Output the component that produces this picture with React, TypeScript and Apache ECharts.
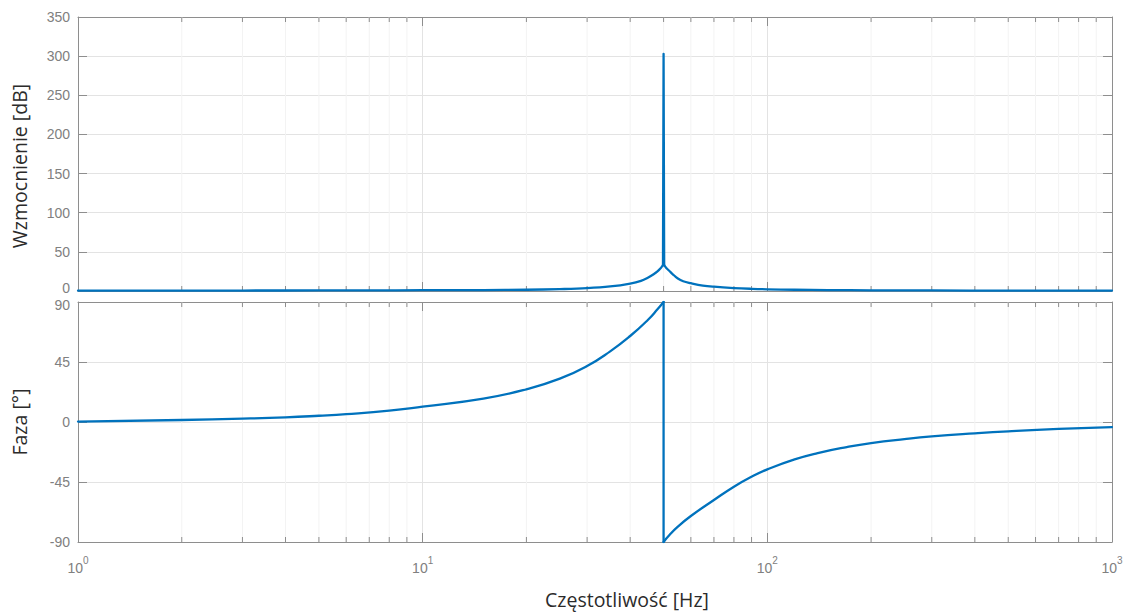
import { useEffect, useRef } from "react";
import * as echarts from "echarts";

// Magnitude response (upper plot): branch below the resonance, the peak, branch above it
const MAG_LOW_FREQ_HZ = [1, 2, 3, 5, 7, 10, 15, 20, 25, 30, 35, 40, 43, 45, 47, 48, 49, 49.5, 49.8];
const MAG_LOW_DB = [0.5, 0.5, 0.6, 0.7, 0.8, 1, 1.2, 1.6, 2.4, 3.6, 5.8, 9.5, 13, 17, 22, 25, 29, 31.5, 33];
const MAG_PEAK_FREQ_HZ = [50];
const MAG_PEAK_DB = [303];
const MAG_HIGH_FREQ_HZ = [50.2, 50.5, 51, 52, 53, 55, 57, 60, 65, 70, 80, 90, 100, 120, 150, 200, 300, 500, 700, 1000];
const MAG_HIGH_DB = [33, 31.5, 29, 25.5, 22, 16, 12.5, 10, 7, 5.5, 3.8, 2.8, 2.2, 1.6, 1.2, 0.9, 0.7, 0.5, 0.5, 0.5];

// Phase response (lower plot): below and above the 50 Hz jump
const PHASE_LOW_FREQ_HZ = [1, 2, 3, 4, 5, 6, 8, 10, 15, 20, 25, 30, 35, 40, 45, 48, 50];
const PHASE_LOW_DEG = [0.3, 1.5, 2.5, 3.5, 4.7, 5.9, 8.5, 11.5, 17.5, 24.5, 32.5, 42, 53, 64.5, 76.5, 84.5, 90];
const PHASE_HIGH_FREQ_HZ = [50, 52, 55, 60, 70, 80, 90, 100, 120, 140, 170, 200, 250, 300, 400, 500, 700, 1000];
const PHASE_HIGH_DEG = [-90, -84.8, -78.5, -70.5, -58.5, -48.5, -41, -35.5, -28, -23.3, -18.8, -15.8, -12.8, -10.8, -8.5, -7, -5.2, -3.8];

// Minor decade ticks on the frequency axis
const MINOR_FREQ_HZ = [2, 3, 4, 5, 6, 7, 8, 9, 20, 30, 40, 50, 60, 70, 80, 90, 200, 300, 400, 500, 600, 700, 800, 900];

const MAG_MIN = 0;
const MAG_MAX = 350;
const MAG_STEP = 50;
const PHASE_MIN = -90;
const PHASE_MAX = 90;
const PHASE_STEP = 45;
const FREQ_MIN = 1;
const FREQ_MAX = 1000;

const AXIS_GRAY = "#8e8e8e";
const LABEL_GRAY = "#808080";
const GRID_GRAY = "#e3e3e3";
const MINOR_GRAY = "#f3f3f3";
const LINE_BLUE = "#0072BD";
const TICK_FONT = "Liberation Sans";
const TITLE_FONT = "Open Sans";
const TITLE_COLOR = "#2b2b2b";

function freqLabel(v: number) {
  const e = Math.round(Math.log10(v));
  return `{b|10}{s|${e}}`;
}

function freqAxis(gridIndex: number, position: "bottom" | "top", withLabels: boolean, name?: string): any {
  return {
    type: "log",
    logBase: 10,
    gridIndex,
    position,
    min: FREQ_MIN,
    max: FREQ_MAX,
    name,
    nameLocation: "middle",
    nameGap: 47,
    nameTextStyle: { fontFamily: TITLE_FONT, fontSize: 19.5, color: TITLE_COLOR, padding: [0, 0, 0, 64] },
    axisLine: { show: true, onZero: false, lineStyle: { color: AXIS_GRAY, width: 1 } },
    axisTick: { show: true, inside: true, length: 9, lineStyle: { color: AXIS_GRAY } },
    axisLabel: {
      show: withLabels,
      margin: 13,
      formatter: freqLabel,
      rich: {
        b: { fontFamily: TICK_FONT, fontSize: 14, color: LABEL_GRAY, lineHeight: 20, verticalAlign: "bottom" },
        s: { fontFamily: TICK_FONT, fontSize: 10, color: LABEL_GRAY, lineHeight: 20, verticalAlign: "top" },
      },
    },
    splitLine: { show: position === "bottom", lineStyle: { color: GRID_GRAY, width: 1 } },
  };
}

function valueAxis(
  gridIndex: number,
  position: "left" | "right",
  min: number,
  max: number,
  step: number,
  name?: string,
  nameShift = 0,
  nudge?: { value: number; up: boolean }
): any {
  return {
    type: "value",
    gridIndex,
    position,
    min,
    max,
    interval: step,
    name,
    nameLocation: "middle",
    nameGap: 49,
    nameTextStyle: {
      fontFamily: TITLE_FONT,
      fontSize: 19.5,
      color: TITLE_COLOR,
      padding: [0, nameShift, 0, 0],
    },
    axisLine: { show: true, onZero: false, lineStyle: { color: AXIS_GRAY, width: 1 } },
    axisTick: { show: true, inside: true, length: 9, lineStyle: { color: AXIS_GRAY } },
    axisLabel: {
      show: position === "left",
      margin: 8,
      formatter: (v: number) => (nudge && v === nudge.value ? `{n|${v}}` : `{t|${v}}`),
      rich: {
        t: { fontFamily: TICK_FONT, fontSize: 14, color: LABEL_GRAY },
        n: {
          fontFamily: TICK_FONT,
          fontSize: 14,
          color: LABEL_GRAY,
          padding: nudge && nudge.up ? [0, 0, 6, 0] : [6, 0, 0, 0],
        },
      },
    },
    splitLine: { show: position === "left", lineStyle: { color: GRID_GRAY, width: 1 } },
  };
}

// Faint minor grid lines plus short inner ticks at 2..9 of each decade
function minorGridSeries(xAxisIndex: number, yAxisIndex: number, yRef: number): any {
  return {
    type: "custom",
    xAxisIndex,
    yAxisIndex,
    silent: true,
    z: 1,
    data: MINOR_FREQ_HZ.map((f) => [f, yRef]),
    encode: { x: 0, y: 1 },
    renderItem: (params: any, api: any) => {
      const cs = params.coordSys;
      const x = api.coord([api.value(0), api.value(1)])[0];
      const top = cs.y;
      const bottom = cs.y + cs.height;
      return {
        type: "group",
        children: [
          { type: "line", shape: { x1: x, y1: top, x2: x, y2: bottom }, style: { stroke: MINOR_GRAY, lineWidth: 1 } },
          { type: "line", shape: { x1: x, y1: top, x2: x, y2: top + 5 }, style: { stroke: AXIS_GRAY, lineWidth: 1 } },
          { type: "line", shape: { x1: x, y1: bottom - 5, x2: x, y2: bottom }, style: { stroke: AXIS_GRAY, lineWidth: 1 } },
        ],
      };
    },
  };
}

function curve(xAxisIndex: number, yAxisIndex: number, data: number[][], smooth: number | boolean): any {
  return {
    type: "line",
    xAxisIndex,
    yAxisIndex,
    data,
    showSymbol: false,
    smooth,
    z: 3,
    lineStyle: { color: LINE_BLUE, width: 2.3, cap: "round", join: "round" },
  };
}

const pairs = (xs: number[], ys: number[]) => xs.map((x, i) => [x, ys[i]]);

export default function App() {
  const ref = useRef<HTMLDivElement>(null);

  useEffect(() => {
    if (!ref.current) return;
    const chart = echarts.init(ref.current, undefined, { renderer: "svg" });

    const magLow = pairs(MAG_LOW_FREQ_HZ, MAG_LOW_DB);
    const magPeak = pairs(MAG_PEAK_FREQ_HZ, MAG_PEAK_DB);
    const magHigh = pairs(MAG_HIGH_FREQ_HZ, MAG_HIGH_DB);
    const magSpike = [magLow[magLow.length - 1], ...magPeak, magHigh[0]];

    const phaseLow = pairs(PHASE_LOW_FREQ_HZ, PHASE_LOW_DEG);
    const phaseHigh = pairs(PHASE_HIGH_FREQ_HZ, PHASE_HIGH_DEG);
    const phaseJump = [phaseLow[phaseLow.length - 1], phaseHigh[0]];

    chart.setOption({
      animation: false,
      backgroundColor: "#ffffff",
      grid: [
        { left: 78, right: 14, top: 17, height: 274 },
        { left: 78, right: 14, top: 302, height: 240 },
      ],
      xAxis: [
        freqAxis(0, "bottom", false),
        freqAxis(0, "top", false),
        freqAxis(1, "bottom", true, "Częstotliwość [Hz]"),
        freqAxis(1, "top", false),
      ],
      yAxis: [
        valueAxis(0, "left", MAG_MIN, MAG_MAX, MAG_STEP, "Wzmocnienie [dB]", 24, { value: 0, up: true }),
        valueAxis(0, "right", MAG_MIN, MAG_MAX, MAG_STEP),
        valueAxis(1, "left", PHASE_MIN, PHASE_MAX, PHASE_STEP, "Faza [°]", 0, { value: 90, up: false }),
        valueAxis(1, "right", PHASE_MIN, PHASE_MAX, PHASE_STEP),
      ],
      series: [
        minorGridSeries(0, 0, MAG_MIN),
        minorGridSeries(2, 2, 0),
        curve(0, 0, magLow, 0.4),
        curve(0, 0, magSpike, false),
        curve(0, 0, magHigh, 0.4),
        curve(2, 2, phaseLow, 0.5),
        curve(2, 2, phaseJump, false),
        curve(2, 2, phaseHigh, 0.5),
      ],
    });

    return () => chart.dispose();
  }, []);

  return (
    <div
      ref={ref}
      style={{ position: "fixed", left: 0, top: 0, width: 1126, height: 615, background: "#fff" }}
    />
  );
}
